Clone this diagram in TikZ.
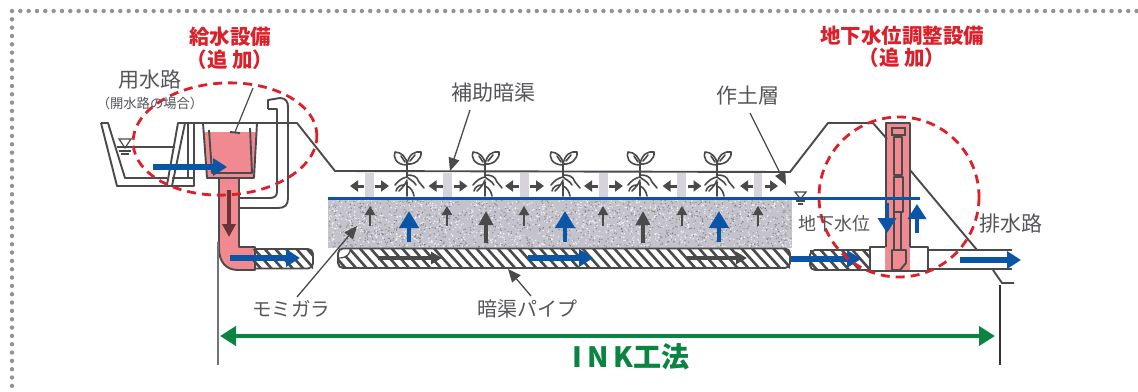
\documentclass[tikz,border=0pt]{standalone}
\usepackage{fontspec}
\setmainfont{Noto Sans CJK JP}
\usetikzlibrary{arrows.meta}
\definecolor{ink}{HTML}{4A4A4A}
\definecolor{txt}{HTML}{55555A}
\definecolor{redt}{HTML}{DD1F2A}
\definecolor{pinkf}{HTML}{F08A90}
\definecolor{bluea}{HTML}{0A55A5}
\definecolor{greena}{HTML}{0A8440}
\definecolor{gravel}{HTML}{C4C2CA}
\definecolor{stripc}{HTML}{D6D4DA}
\tikzset{
  wall/.style={draw=ink,line width=1.9pt,line join=round},
  thinwall/.style={draw=ink,line width=1.2pt},
  bluearrow/.style={draw=bluea,line width=5.2pt,-{Triangle[length=14pt,width=17pt]}},
  bluebig/.style={draw=bluea,line width=4.8pt,-{Triangle[length=17pt,width=19pt]}},
  blackbig/.style={draw=ink,line width=3.8pt,-{Triangle[length=14pt,width=14pt]}},
  blacksmall/.style={draw=ink,line width=2.6pt,-{Triangle[length=9pt,width=10pt]}},
  pipearrow/.style={draw=ink,line width=4pt,-{Triangle[length=11pt,width=12pt]}},
  sidearrow/.style={draw=ink,line width=3pt,-{Triangle[length=8pt,width=11pt]}},
  leader/.style={draw=ink,line width=1.3pt,-{Triangle[length=13pt,width=11pt]}},
  graytext/.style={text=txt,inner sep=0pt,font=\fontsize{21}{21}\selectfont},
  redtext/.style={text=redt,inner sep=0pt,font=\bfseries\fontsize{20.5}{21}\selectfont},
  reddash/.style={draw=redt,line width=2.8pt,dash pattern=on 9pt off 6pt},
  hatch/.style={draw=ink,line width=2.6pt},
  plantline/.style={draw=ink,line width=1.6pt,line cap=round,line join=round},
  dotb/.style={fill=gray!85,draw=none},
  strip/.style={fill=stripc,draw=none}
}
\newcommand{\sprout}[1]{%
  \begin{scope}[shift={(#1,172)}]
    \draw[plantline] (0,0) -- (0,-8);
    \draw[plantline] (0,-7) .. controls (-12,-7) and (-14,-16) .. (-12,-20) .. controls (-6,-20) and (0,-15) .. cycle;
    \draw[plantline] (0,-8) .. controls (2,-18) and (8,-21) .. (14,-20) .. controls (15,-13) and (8,-7) .. cycle;
    \draw[plantline] (-6,-16) -- (-2,-10);
    \draw[plantline] (8,-17) -- (3,-11);
    \draw[plantline] (0,0) -- (0,5) .. controls (-5,6) and (-9,9) .. (-12,13);
    \draw[plantline] (0,3) .. controls (6,3) and (10,4) .. (12,10) -- (17,16);
    \draw[plantline] (0,5) .. controls (3,8) and (7,9) .. (9,13);
    \draw[plantline] (0,8) .. controls (-2,13) and (-4,15) .. (-8,19);
    \draw[plantline] (0,10) -- (0,24);
    \draw[plantline] (0,14) .. controls (4,16) and (6,19) .. (7,24);
    \draw[plantline] (-3,13) .. controls (-7,13) and (-10,15) .. (-11,19);
  \end{scope}}
\newcommand{\stripset}[1]{%
  \fill[strip] (#1-4.5,172.5) rectangle (#1+4.5,198);
  \draw[sidearrow] (#1-5,186) -- (#1-19,186);
  \draw[sidearrow] (#1+6,186) -- (#1+20,186);}
\newcommand{\pipepath}[4]{(#1+5,#3) -- (#2-5,#3) arc (-90:0:5) -- (#2,#4-5) arc (0:90:5) -- (#1+5,#4) arc (90:180:5) -- (#1,#3+5) arc (180:270:5) -- cycle}
\begin{document}
\begin{tikzpicture}[x=1pt,y=-1pt]
\useasboundingbox (0,0) rectangle (1138,391);
\fill[white] (0,0) rectangle (1138,391);
% dotted frame
\foreach \i in {0,...,135} {\fill[dotb] ({12+8.33*\i},11) circle (2.2);}
\foreach \i in {1,...,46} {\fill[dotb] (12,{11+8.33*\i}) circle (2.2);}
% gravel
\fill[gravel] (328,198) rectangle (792,248);
\pgfmathsetseed{42}
\foreach \i in {1,...,2400} {
  \pgfmathsetmacro{\px}{329+462*rnd}
  \pgfmathsetmacro{\py}{199+48*rnd}
  \ifodd\i \fill[white,opacity=.75] (\px,\py) circle (.8);
  \else \fill[gray!70!black,opacity=.55] (\px,\py) circle (.7);\fi
}
% pale strips + lateral arrows
\foreach \sx in {369,447.5,524,603,681.5} {\stripset{\sx}}
\fill[strip] (754,172.5) rectangle (762,198);
\draw[sidearrow] (753,186) -- (740,186);
\draw[sidearrow] (765,186) -- (778,186);
% pink parts
\fill[pinkf] (204,132) -- (256,132) -- (254,178) -- (207,178) -- cycle;
\fill[pinkf] (219,178) -- (219,248) .. controls (219,262) and (226,270) .. (238,270) -- (255,270) -- (255,247) -- (239,247) -- (239,178) -- cycle;
\fill[pinkf] (885,123) rectangle (910,270);
% canal and embankment
\draw[wall] (101,123) -- (108,123) -- (125,178) -- (167,178);
\draw[wall] (101,123) -- (117,186) -- (194,186) -- (194,123);
\draw[thinwall] (117,147) -- (175,147);
\draw[wall] (167,185) -- (178,123) -- (297,123) -- (335,171) -- (790,172) -- (828,123) -- (873,123) -- (887,139);
\draw[wall] (172,186) -- (185,123);
\draw[wall] (188,123) -- (188,178);
\draw[wall] (172,178) -- (194,178);
\draw[wall] (910,170) -- (977,250);
% water symbols
\draw[thinwall] (119,139) -- (131,139) -- (125,148) -- cycle;
\draw[thinwall] (119,151) -- (131,151) (121,154) -- (129,154);
\draw[thinwall] (795,192) -- (806,192) -- (800.5,199) -- cycle;
\draw[thinwall] (796,201) -- (805,201) (798,204) -- (803,204);
% tank
\draw[wall] (203,123) -- (207,178) -- (254,178) -- (257,123);
\draw[wall] (209,130) -- (212,173) -- (252,173) -- (250,128);
% vertical pipe
\draw[wall] (219,178) -- (219,248) .. controls (219,262) and (226,270) .. (238,270) -- (255,270) -- (255,247) -- (239,247) -- (239,178);
% bypass
\draw[wall] (268,109) -- (268,100) -- (280,98) .. controls (286,98) and (288,102) .. (288,107) -- (288,198) .. controls (288,205) and (285,208) .. (278,208) -- (239,208);
\draw[wall] (268,109) -- (277,109) -- (277,192) .. controls (277,196) and (274,198) .. (270,198) -- (239,198);
% hatched pipes
\begin{scope}
  \clip (250,249) rectangle (313,268.5);
  \foreach \hx in {240,250.6,...,330} {\draw[hatch] (\hx,245) -- (\hx+24,272);}
\end{scope}
\draw[wall] (255,249) -- (308,249) arc (-90:0:5) -- (313,263.5) arc (0:90:5) -- (255,268.5);
\begin{scope}
  \clip (338,248.5) rectangle (790,268);
  \foreach \hx in {325,335.6,...,800} {\draw[hatch] (\hx,245) -- (\hx+24,272);}
\end{scope}
\fill[white] (338,248.5) -- (350,248.5) .. controls (351,253) and (347,258) .. (338,258) -- cycle;
\draw[wall] \pipepath{338}{790}{248.5}{268};
\draw[thinwall] (339,258) .. controls (347,258) and (351,253) .. (350,248.5);
\begin{scope}
  \clip (810,250) rectangle (870,270);
  \foreach \hx in {795,805.6,...,870} {\draw[hatch] (\hx,245) -- (\hx+24,272);}
\end{scope}
\draw[wall] (870,250) -- (815,250) arc (270:180:5) -- (810,265) arc (180:90:5) -- (870,270);
% regulator
\fill[white] (870,247) rectangle (885,271) (910,247) rectangle (928,271);
\draw[wall] (885,247) -- (870,247) -- (870,271) -- (928,271) -- (928,247) -- (910,247);
\draw[wall] (886,247) -- (886,123) -- (910,123) -- (910,247);
\draw[thinwall] (892,128) rectangle (905,135);
\draw[wall] (894,137) rectangle (902,175);
\draw[wall] (894,177) rectangle (903,212);
\draw[wall] (894,212) -- (894,250) (901,212) -- (901,250);
\draw[wall] (892,250) -- (906,250) -- (906,263) -- (900,270) -- (892,270) -- cycle;
% outlet
\draw[wall] (928,250) -- (1012,250);
\draw[wall] (928,269) -- (1012,269);
\draw[wall] (993,270) -- (1002,283) -- (1014,283);
% plants
\foreach \px in {407,485,563,640,717} {\sprout{\px}}
% water table
\draw[draw=bluea,line width=2.2pt] (328,198.5) -- (920,198.5);
% black arrows
\foreach \ax in {370,447,524,603,682,758} {\draw[blacksmall] (\ax,226) -- (\ax,206);}
\foreach \ax in {486,643} {\draw[blackbig] (\ax,243) -- (\ax,211);}
\draw[pipearrow] (378,258) -- (442,258);
\draw[pipearrow] (687,258) -- (747,258);
\draw[draw=black!30!red!30!ink,line width=4.4pt,-{Triangle[length=13pt,width=13pt]}] (229,190) -- (229,237);
% leaders
\coordinate (a1) at (253,88); \coordinate (a2) at (235,132);
\draw[thinwall] (a1) -- (a2);
\draw[wall] (230,132) -- (240,133);
\coordinate (b1) at (470,110); \coordinate (b2) at (450,171);
\draw[leader] (b1) -- (b2);
\coordinate (c1) at (750,113); \coordinate (c2) at (786,185);
\draw[leader] (c1) -- (c2);
\coordinate (d1) at (297,297); \coordinate (d2) at (357,226);
\draw[leader] (d1) -- (d2);
\coordinate (e1) at (531,296); \coordinate (e2) at (508,269);
\draw[leader] (e1) -- (e2);
% blue arrows
\draw[bluearrow] (153,167) -- (227,167);
\draw[bluearrow] (230,258) -- (300,258);
\draw[bluearrow] (528,258) -- (593,258);
\draw[bluearrow] (791,259) -- (861,259);
\draw[bluearrow] (960,260) -- (1021,260);
\foreach \ax in {409,565,719} {\draw[bluebig] (\ax,242) -- (\ax,211);}
\draw[draw=bluea,line width=4pt,-{Triangle[length=15pt,width=18pt]}] (887,203) -- (887,233);
\draw[draw=bluea,line width=4pt,-{Triangle[length=15pt,width=18pt]}] (917,233) -- (917,204);
% red outlines
\draw[reddash,rotate around={3:(225,139)}] (225,139) ellipse (92 and 56);
\draw[reddash] (899,197) circle (80);
% dimension
\draw[draw=gray!90!black,line width=1.4pt] (218,242) -- (218,365);
\draw[draw=black!80,line width=1.1pt] (1000,285) -- (1000,365);
\coordinate (g1) at (220,336); \coordinate (g2) at (995,336);
\draw[draw=greena,line width=4.2pt,{Triangle[length=16pt,width=19pt]}-{Triangle[length=16pt,width=19pt]}] (g1) -- (g2);
% texts
\node[redtext] (t1) at (230,37) {給水設備};
\node[redtext] (t2) at (230,60) {（追 加）};
\node[redtext] (t3) at (902,36) {地下水位調整設備};
\node[redtext] (t4) at (902,58) {（追 加）};
\node[graytext] (t5) at (150,80) {用水路};
\node[graytext,font=\fontsize{13.3}{14}\selectfont] (t6) at (150,103) {（開水路の場合）};
\node[graytext] (t7) at (493,93) {補助暗渠};
\node[graytext] (t8) at (748,96) {作土層};
\node[graytext,font=\fontsize{18}{18}\selectfont] (t9) at (834,224) {地下水位};
\node[graytext] (t10) at (1011,224) {排水路};
\node[graytext,font=\fontsize{19.5}{20}\selectfont] (t11) at (291,309) {モミガラ};
\node[graytext,font=\fontsize{20}{20}\selectfont] (t12) at (527,309) {暗渠パイプ};
\node[text=greena,inner sep=0pt,font=\bfseries\fontsize{28}{28}\selectfont] (t13) at (631,357) {I\,N\,K工法};
\end{tikzpicture}
\end{document}
